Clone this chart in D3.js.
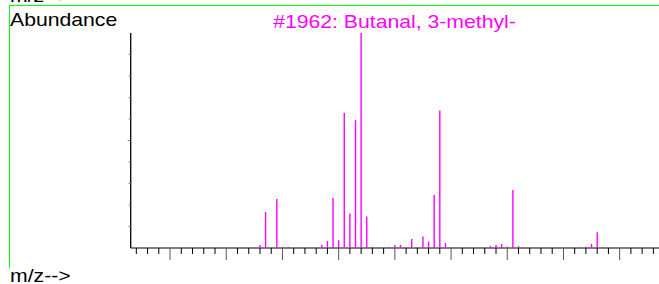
<!DOCTYPE html>
<html>
<head>
<meta charset="utf-8">
<script src="https://cdn.jsdelivr.net/npm/d3@7"></script>
<style>
html,body{margin:0;padding:0;background:#fff;}
svg{display:block;}
text{font-family:"Liberation Sans",Arial,sans-serif;}
</style>
</head>
<body>
<svg id="c" width="659" height="284"></svg>
<script>
const title = "#1962: Butanal, 3-methyl-";
const mz = [26,27,29,30,31,37,38,39,40,41,42,43,44,45,46,49,50,51,53,54,55,56,57,58,59,67,68,69,70,71,72,83,84,85,86,87];
const abundance = [1.4,16.7,22.8,0.5,0.6,1.4,3.3,23.4,3.6,62.8,16.0,59.5,100,14.6,0.5,0.3,1.4,1.4,4.2,0.2,5.3,2.9,24.7,64.0,2.3,0.9,1.4,1.9,0.6,27.0,0.9,0.2,0.6,1.9,7.3,0.5];
const xMinorTicks = d3.range(4, 97, 2);
const yTicks = d3.range(10, 100, 10);

const svg = d3.select("#c");
const x = d3.scaleLinear().domain([3, 97]).range([130.7, 659]);
const y = d3.scaleLinear().domain([0, 100]).range([248, 33]);

// green frame
svg.append("rect").attr("x", 9).attr("y", 5).attr("width", 650).attr("height", 1.2)
  .attr("fill", "#00ff00").attr("shape-rendering", "crispEdges");
svg.append("rect").attr("x", 9).attr("y", 5).attr("width", 1.2).attr("height", 263)
  .attr("fill", "#00ff00").attr("shape-rendering", "crispEdges");

function label(txt, tx, ty, anchor, color) {
  svg.append("text")
    .attr("transform", `translate(${tx},${ty}) scale(1.14,1)`)
    .attr("text-anchor", anchor)
    .attr("font-size", 18.6)
    .attr("fill", color)
    .text(txt);
}
label("m/z-->", 10, 1.7, "start", "#000");
label("Abundance", 10, 26, "start", "#000");
label(title, 394.5, 28.3, "middle", "#ff00ff");
label("m/z-->", 10, 282.3, "start", "#000");

// axes
svg.append("line").attr("x1", x.range()[0]).attr("x2", x.range()[1]).attr("y1", y(0)).attr("y2", y(0))
  .attr("stroke", "#000").attr("stroke-width", 1);
svg.append("line").attr("x1", x.range()[0]).attr("x2", x.range()[0]).attr("y1", y(0)).attr("y2", y(100))
  .attr("stroke", "#000").attr("stroke-width", 1.3);

svg.append("g").selectAll("line").data(xMinorTicks).join("line")
  .attr("x1", d => x(d)).attr("x2", d => x(d))
  .attr("y1", y(0)).attr("y2", d => y(0) + (d % 10 === 0 ? 12 : 6))
  .attr("stroke", d => d % 10 === 0 ? "#555" : "#000").attr("stroke-width", 1);

svg.append("g").selectAll("line").data(yTicks).join("line")
  .attr("x1", d => x.range()[0] - (d === 50 ? 3 : 2)).attr("x2", x.range()[0])
  .attr("y1", d => y(d)).attr("y2", d => y(d))
  .attr("stroke", "#777").attr("stroke-width", 1);

// spectrum bars
const data = mz.map((m, i) => ({m, a: abundance[i]}));
svg.append("g").selectAll("line").data(data).join("line")
  .attr("x1", d => x(d.m)).attr("x2", d => x(d.m))
  .attr("y1", y(0)).attr("y2", d => y(d.a))
  .attr("stroke", "#ff00ff").attr("stroke-width", 1.4);
</script>
</body>
</html>
